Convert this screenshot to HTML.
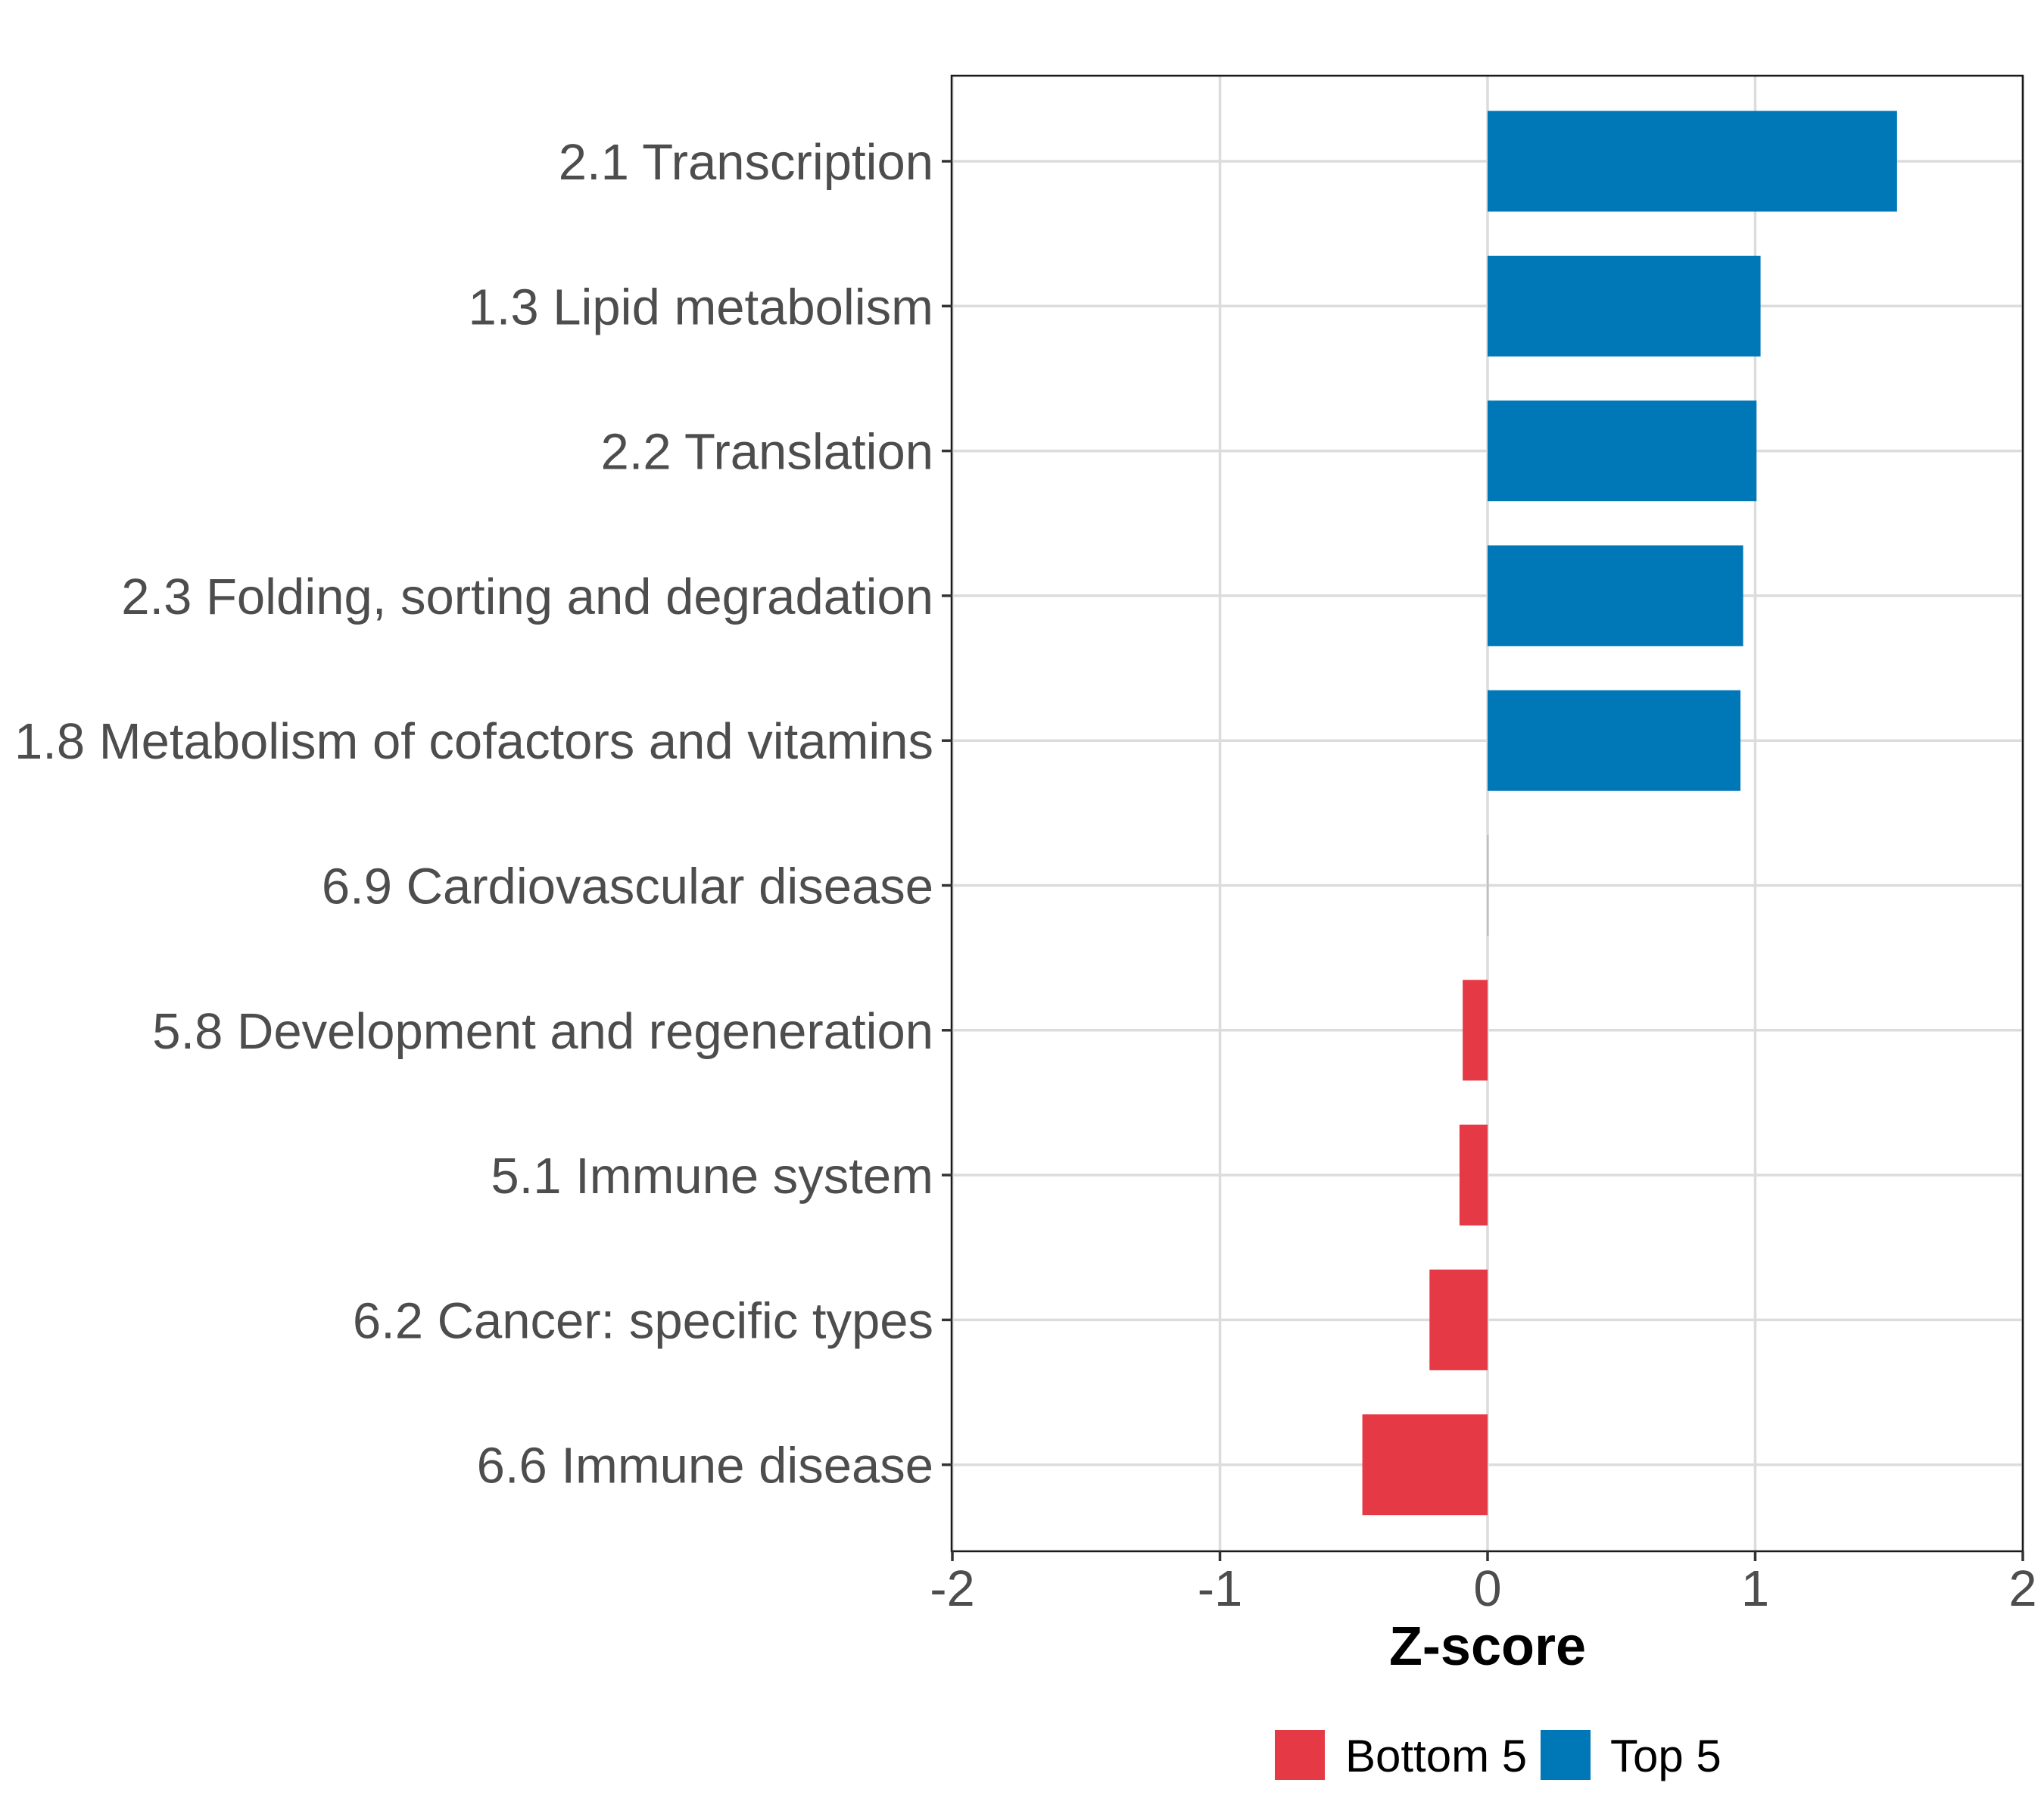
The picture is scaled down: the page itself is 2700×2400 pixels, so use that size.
<!DOCTYPE html>
<html><head><meta charset="utf-8"><style>
html,body{margin:0;padding:0;background:#fff;}
svg{display:block;font-family:"Liberation Sans",Arial,sans-serif;}
</style></head><body>
<svg id="chart" width="2700" height="2400" viewBox="0 0 2700 2400" xmlns="http://www.w3.org/2000/svg">
<rect x="0" y="0" width="2700" height="2400" fill="#fff"/>
<g id="grid"></g>
<g id="bars"></g>
<rect x="1257" y="100" width="1415" height="1949" fill="none" stroke="#1a1a1a" stroke-width="2.5"/>
<g id="yaxis"></g>
<g id="xaxis"></g>
<text x="1965" y="2199" font-size="72" font-weight="bold" text-anchor="middle" fill="#000">Z-score</text>
<g>
  <rect x="1684" y="2285" width="66" height="66" fill="#e63946"/>
  <text x="1777" y="2340" font-size="60" fill="#000">Bottom 5</text>
  <rect x="2035" y="2285" width="66" height="66" fill="#0077b6"/>
  <text x="2127" y="2340" font-size="60" fill="#000">Top 5</text>
</g>
</svg>
<script>
const categories = ["2.1 Transcription","1.3 Lipid metabolism","2.2 Translation","2.3 Folding, sorting and degradation","1.8 Metabolism of cofactors and vitamins","6.9 Cardiovascular disease","5.8 Development and regeneration","5.1 Immune system","6.2 Cancer: specific types","6.6 Immune disease"];
const zscores = [1.53, 1.02, 1.005, 0.955, 0.945, 0.0, -0.093, -0.105, -0.217, -0.468];
const groups = ["Top 5","Top 5","Top 5","Top 5","Top 5","Top 5","Bottom 5","Bottom 5","Bottom 5","Bottom 5"];
const xTicks = [-2,-1,0,1,2];
const xTickLabels = ["-2","-1","0","1","2"];

const NS="http://www.w3.org/2000/svg";
const PL=1257, PR=2672, PT=100, PB=2049;
function xs(v){return 1965 + v*353.5;}
function ys(i){return 213 + i*191.3;}
const colors={"Top 5":"#0077b6","Bottom 5":"#e63946"};
function mk(tag,attrs,parent){const e=document.createElementNS(NS,tag);for(const k in attrs)e.setAttribute(k,attrs[k]);parent.appendChild(e);return e;}
const grid=document.getElementById('grid'),bars=document.getElementById('bars'),ya=document.getElementById('yaxis'),xa=document.getElementById('xaxis');
xTicks.forEach((t,i)=>{
  const x=xs(t);
  const g=mk('line',{x1:x,x2:x,y1:PT,y2:PB,stroke:'#dcdcdc','stroke-width':3.5},grid);
  
  
  const tk=mk('line',{x1:x,x2:x,y1:PB,y2:PB+13,stroke:'#333','stroke-width':3.5},xa);
  
  
  const tx=mk('text',{x:x,y:2121,'font-size':67,'text-anchor':'middle',fill:'#4d4d4d'},xa);
  tx.textContent=xTickLabels[i];
  
  
});
categories.forEach((c,i)=>{
  const y=ys(i);
  const g=mk('line',{x1:PL,x2:PR,y1:y,y2:y,stroke:'#dcdcdc','stroke-width':3.5},grid);
  
  
  const v=zscores[i];
  const x0=xs(0),x1=xs(v);
  const b=mk('rect',{x:Math.min(x0,x1),y:y-66.5,width:Math.max(Math.abs(x1-x0),0.8),height:133,fill:v===0?'#888':colors[groups[i]]},bars);
  
  
  const tk=mk('line',{x1:PL-13,x2:PL,y1:y,y2:y,stroke:'#333','stroke-width':3.5},ya);
  
  
  const tx=mk('text',{x:1233,y:y+24,'font-size':67,'text-anchor':'end',fill:'#4d4d4d'},ya);
  tx.textContent=c;
  
  
});
</script>
</body></html>
